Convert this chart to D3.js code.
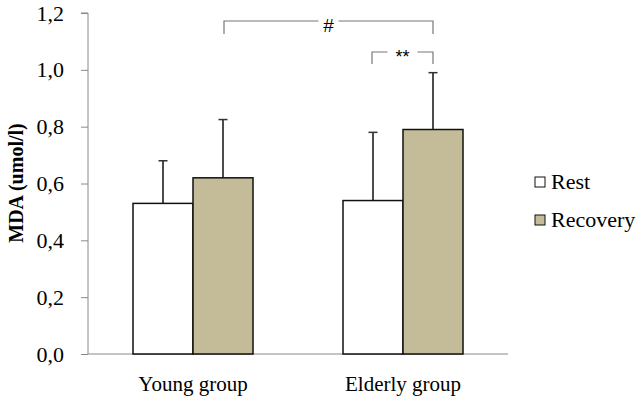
<!DOCTYPE html>
<html><head><meta charset="utf-8">
<script src="https://cdn.jsdelivr.net/npm/d3@7"></script>
<style>body{margin:0;background:#fff}svg{display:block}text{font-family:'Liberation Serif','Times New Roman',serif}</style>
</head><body>
<svg id="c" width="642" height="401"></svg>
<script>
const categories = ["Young group", "Elderly group"];
const seriesNames = ["Rest", "Recovery"];
const restValues = [0.53, 0.54];
const recoveryValues = [0.62, 0.79];
const restErrors = [0.15, 0.24];
const recoveryErrors = [0.205, 0.20];
const yTicks = [0, 0.2, 0.4, 0.6, 0.8, 1.0, 1.2];
const colors = {Rest: "#ffffff", Recovery: "#c4bc98"};

const svg = d3.select("#c");
const font = "'Liberation Serif','Times New Roman',serif";
const mLeft = 88, mRight = 508, mTop = 13, mBottom = 354;

const y = d3.scaleLinear().domain([0, 1.2]).range([mBottom, mTop]);
const x = d3.scaleBand().domain(categories).range([mLeft, mRight]).paddingInner(0).paddingOuter(0);
const xs = d3.scaleBand().domain(seriesNames).range([0, x.bandwidth()]).paddingInner(0).paddingOuter(0.75);

// y axis
const yAxis = d3.axisLeft(y).tickValues(yTicks).tickSize(7).tickPadding(17)
  .tickFormat(d => d3.format(".1f")(d).replace(".", ","));
const gy = svg.append("g").attr("transform", `translate(${mLeft},0)`).call(yAxis).attr("font-family", font);
gy.select(".domain").attr("stroke", "#888").attr("d", `M-7,${mTop}H0V${mBottom}`);
gy.selectAll(".tick line").attr("stroke", "#888");
gy.selectAll(".tick text").attr("font-family", font).attr("font-size", 22).attr("fill", "#000");

// x axis
const xAxis = d3.axisBottom(x).tickSize(0).tickPadding(22);
const gx = svg.append("g").attr("transform", `translate(0,${mBottom})`).call(xAxis).attr("font-family", font);
gx.select(".domain").attr("stroke", "#888").attr("d", `M${mLeft},0H${mRight}`);
gx.selectAll(".tick text").attr("font-family", font).attr("font-size", 21).attr("fill", "#000");

// bars
const data = [];
categories.forEach((c, i) => {
  data.push({cat: c, s: "Rest", v: restValues[i], e: restErrors[i]});
  data.push({cat: c, s: "Recovery", v: recoveryValues[i], e: recoveryErrors[i]});
});
const bx = d => x(d.cat) + xs(d.s);
const bc = d => bx(d) + xs.bandwidth() / 2;

// error bars
const eg = svg.append("g");
eg.selectAll("line.stem").data(data).join("line")
  .attr("x1", bc).attr("x2", bc)
  .attr("y1", d => y(d.v)).attr("y2", d => y(d.v + d.e))
  .attr("stroke", "#111").attr("stroke-width", 1.5);
eg.selectAll("line.cap").data(data).join("line")
  .attr("x1", d => bc(d) - 4.5).attr("x2", d => bc(d) + 4.5)
  .attr("y1", d => y(d.v + d.e)).attr("y2", d => y(d.v + d.e))
  .attr("stroke", "#333").attr("stroke-width", 1.5);

svg.append("g").selectAll("rect").data(data).join("rect")
  .attr("x", d => bx(d)).attr("width", xs.bandwidth())
  .attr("y", d => y(d.v)).attr("height", d => y(0) - y(d.v))
  .attr("fill", d => colors[d.s]).attr("stroke", "#111").attr("stroke-width", 1.5);

// significance brackets
function bracket(x1, x2, yy, drop, label, fs, gap, dy) {
  const g = svg.append("g");
  const mid = (x1 + x2) / 2;
  g.append("path").attr("d", `M${x1},${yy + drop}V${yy}H${mid - gap}M${mid + gap},${yy}H${x2}V${yy + drop}`)
    .attr("fill", "none").attr("stroke", "#777").attr("stroke-width", 1.2);
  g.append("text").attr("x", mid).attr("y", yy + dy).attr("text-anchor", "middle")
    .style("font-family", "'Liberation Sans',Arial,sans-serif").attr("font-size", fs).text(label);
}
bracket(bc(data[1]) + 1, bc(data[3]), 21, 13, "#", 19, 10, 11);
bracket(bc(data[2]) - 1, bc(data[3]), 52, 12, "**", 18, 15, 11);

// legend
const lg = svg.append("g");
seriesNames.forEach((s, i) => {
  const yy = 177 + i * 38;
  lg.append("rect").attr("x", 535).attr("y", yy).attr("width", 10).attr("height", 10)
    .attr("fill", colors[s]).attr("stroke", "#111").attr("stroke-width", 1);
  lg.append("text").attr("x", 551).attr("y", yy + 12).attr("font-family", font).attr("font-size", 22).text(s);
});

// y title
svg.append("text").attr("transform", "translate(23,183) rotate(-90)").attr("text-anchor", "middle")
  .attr("font-family", font).attr("font-size", 20).attr("font-weight", "bold").text("MDA (umol/l)");
</script>
</body></html>
